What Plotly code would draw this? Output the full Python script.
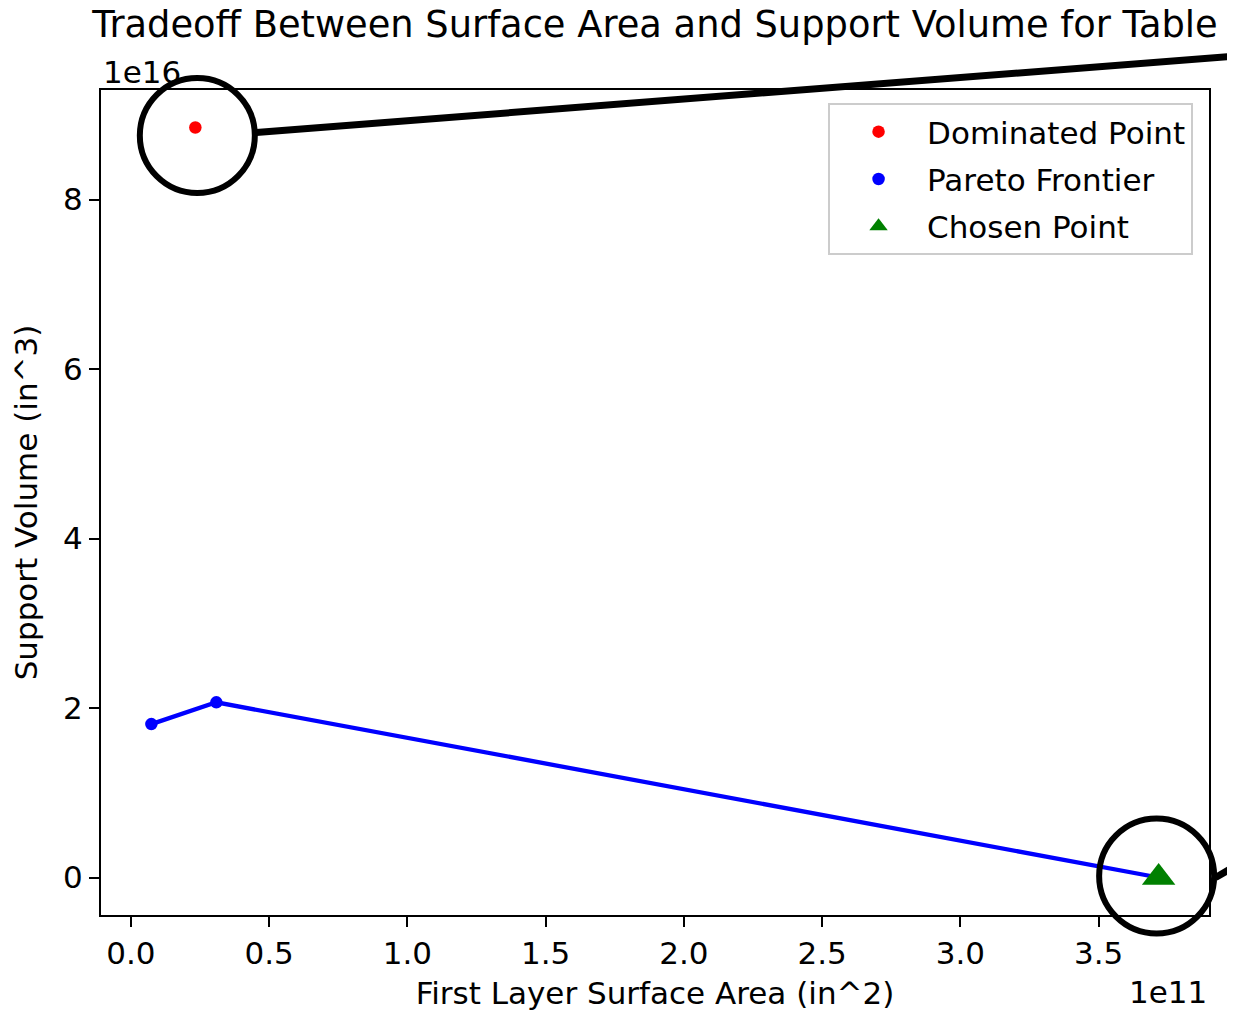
import plotly.graph_objects as go

# ---------------- data ----------------
title_text = "Tradeoff Between Surface Area and Support Volume for Table"
x_label = "First Layer Surface Area (in^2)"
y_label = "Support Volume (in^3)"

series_names = ["Dominated Point", "Pareto Frontier", "Chosen Point"]

dominated_x = [0.233e11]
dominated_y = [8.85e16]

pareto_x = [0.074e11, 0.309e11, 3.717e11]
pareto_y = [1.81e16, 2.067e16, 0.0]

chosen_x = [3.717e11]
chosen_y = [0.0]

x_exponent_label = "1e11"
y_exponent_label = "1e16"
x_scale = 1e11
y_scale = 1e16
x_tick_values = [0.0, 0.5, 1.0, 1.5, 2.0, 2.5, 3.0, 3.5]
x_tick_labels = ["0.0", "0.5", "1.0", "1.5", "2.0", "2.5", "3.0", "3.5"]
y_tick_values = [0, 2, 4, 6, 8]
y_tick_labels = ["0", "2", "4", "6", "8"]

# ---------------- styling ----------------
FONT = "DejaVu Sans"
FS = 31
# the page body adds an 8px offset, so the figure is 8px smaller
W, H = 1227, 1005
ML, MR, MT, MB = 93, 26, 82, 98

all_x = dominated_x + pareto_x + chosen_x
all_y = dominated_y + pareto_y + chosen_y
dx = max(all_x) - min(all_x)
dy = max(all_y) - min(all_y)
x_range = [min(all_x) - 0.05 * dx, max(all_x) + 0.05 * dx]
y_range = [min(all_y) - 0.05 * dy, max(all_y) + 0.05 * dy]


def to_paper_x(v):
    return (v - x_range[0]) / (x_range[1] - x_range[0])


def to_paper_y(v):
    return (v - y_range[0]) / (y_range[1] - y_range[0])


fig = go.Figure()

# Pareto line (no legend)
fig.add_trace(go.Scatter(
    x=pareto_x, y=pareto_y, mode="lines",
    line=dict(color="#0000ff", width=4.3),
    showlegend=False, hoverinfo="skip",
))
fig.add_trace(go.Scatter(
    x=dominated_x, y=dominated_y, mode="markers", name=series_names[0],
    marker=dict(color="#ff0000", size=12.5), legendgroup="a",
))
fig.add_trace(go.Scatter(
    x=pareto_x, y=pareto_y, mode="markers", name=series_names[1],
    marker=dict(color="#0000ff", size=12.5), legendgroup="b",
))
fig.add_trace(go.Scatter(
    x=chosen_x, y=chosen_y, mode="markers", name=series_names[2],
    marker=dict(color="#008000", size=29, symbol="triangle-up"), legendgroup="c",
))

# highlight circles and connector lines (pixel offsets around the data points)
shapes = []
circle_r = 57.5
for (cx, cy, ox, oy, lx0, ly0, lx1, ly1) in [
    (dominated_x[0], dominated_y[0], 2, -8, 61, -5, 1405, 100),
    (chosen_x[0], chosen_y[0], -2, 1.5, 57, 0, 357, 174),
]:
    ax, ay = to_paper_x(cx), to_paper_y(cy)
    shapes.append(dict(
        type="circle", xref="paper", yref="paper",
        xsizemode="pixel", ysizemode="pixel", xanchor=ax, yanchor=ay,
        x0=ox - circle_r, x1=ox + circle_r, y0=oy - circle_r, y1=oy + circle_r,
        line=dict(color="black", width=6), fillcolor="rgba(0,0,0,0)",
    ))
    shapes.append(dict(
        type="line", xref="paper", yref="paper",
        xsizemode="pixel", ysizemode="pixel", xanchor=ax, yanchor=ay,
        x0=lx0, y0=ly0, x1=lx1, y1=ly1,
        line=dict(color="black", width=7),
    ))

axis_common = dict(
    showline=True, linecolor="black", linewidth=2.3, mirror=True,
    ticks="outside", ticklen=10, tickwidth=2.3, tickcolor="black",
    showgrid=False, zeroline=False,
    tickfont=dict(family=FONT, size=FS, color="black"),
)

fig.update_layout(
    width=W, height=H,
    margin=dict(l=ML, r=MR, t=MT, b=MB, autoexpand=False),
    paper_bgcolor="white", plot_bgcolor="white",
    font=dict(family=FONT, size=FS, color="black"),
    title=dict(text=title_text, x=0.5, xref="paper", xanchor="center",
               y=1 - 16 / H, yref="container", yanchor="middle",
               font=dict(family=FONT, size=36.8, color="black")),
    xaxis=dict(range=x_range,
               tickvals=[v * x_scale for v in x_tick_values], ticktext=x_tick_labels,
               title=dict(text=x_label, standoff=12, font=dict(family=FONT, size=FS)),
               **axis_common),
    yaxis=dict(range=y_range,
               tickvals=[v * y_scale for v in y_tick_values], ticktext=y_tick_labels,
               title=dict(text=y_label, standoff=16, font=dict(family=FONT, size=FS)),
               **axis_common),
    legend=dict(x=0.9856, y=0.9842, xanchor="right", yanchor="top",
                bgcolor="white", bordercolor="#cccccc", borderwidth=2,
                font=dict(family=FONT, size=FS, color="black"),
                itemwidth=87, tracegroupgap=4),
    shapes=shapes,
    annotations=[
        dict(text=y_exponent_label, xref="paper", yref="paper", x=0, y=1,
             xanchor="left", yanchor="bottom", showarrow=False, yshift=-2,
             font=dict(family=FONT, size=FS, color="black")),
        dict(text=x_exponent_label, xref="paper", yref="paper", x=1, y=0,
             xanchor="right", yanchor="top", showarrow=False, yshift=-57,
             font=dict(family=FONT, size=FS, color="black")),
    ],
)

fig.write_html("out.html")
